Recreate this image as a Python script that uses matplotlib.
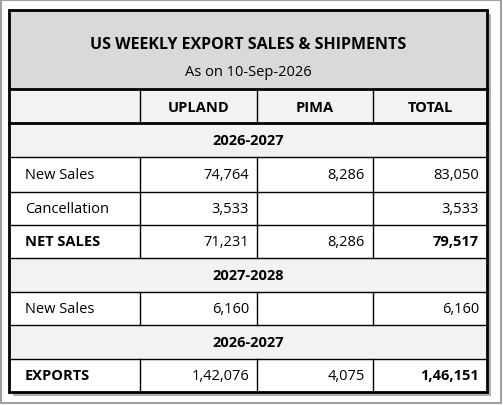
import matplotlib
matplotlib.use("Agg")
import matplotlib.pyplot as plt
from matplotlib.patches import Rectangle

title = "US WEEKLY EXPORT SALES & SHIPMENTS"
subtitle = "As on 10-Sep-2026"
columns = ["UPLAND", "PIMA", "TOTAL"]
rows = [
    ("section", "2026-2027"),
    ("row", "New Sales", "74,764", "8,286", "83,050", False),
    ("row", "Cancellation", "3,533", "", "3,533", False),
    ("row", "NET SALES", "71,231", "8,286", "79,517", True),
    ("section", "2027-2028"),
    ("row", "New Sales", "6,160", "", "6,160", False),
    ("section", "2026-2027"),
    ("row", "EXPORTS", "1,42,076", "4,075", "1,46,151", True),
]
row_edges = [124, 158, 193, 226, 259, 293, 326, 360, 393]

plt.rcParams['font.family'] = ['Open Sans', 'DejaVu Sans']
fig = plt.figure(figsize=(5.03, 4.06), dpi=100)
ax = fig.add_axes([0, 0, 1, 1])
ax.set_xlim(0, 503); ax.set_ylim(406, 0); ax.axis('off')

L, R, T, B = 9, 487, 11, 393
xs = [L, 140, 257, 373, R]
ax.add_patch(Rectangle((1, 1), 500, 403, fill=False, ec='#a0a0a0', lw=1.5))
ax.add_patch(Rectangle((L + 4, T + 4), R - L, B - T, fc='#b0b0b0', ec='none'))
ax.add_patch(Rectangle((L, T), R - L, B - T, fc='white', ec='none'))
ax.add_patch(Rectangle((L, T), R - L, 90 - T, fc='#d9d9d9', ec='none'))
ax.add_patch(Rectangle((L, 90), R - L, 34, fc='#f2f2f2', ec='none'))
ax.text((L + R) / 2, 45, title, ha='center', va='center', fontsize=11.5, fontweight='bold')
ax.text((L + R) / 2, 73, subtitle, ha='center', va='center', fontsize=10.5)
for i, c in enumerate(columns):
    ax.text((xs[i + 1] + xs[i + 2]) / 2, 108, c, ha='center', va='center', fontsize=10.5, fontweight='bold')
ax.plot([L, R], [90, 90], color='black', lw=2)
ax.plot([L, R], [124, 124], color='black', lw=2)
for x in xs[1:4]:
    ax.plot([x, x], [90, 124], color='black', lw=1)

for k, r in enumerate(rows):
    y0, y1 = row_edges[k], row_edges[k + 1]
    ym = (y0 + y1) / 2
    if r[0] == "section":
        ax.add_patch(Rectangle((L, y0), R - L, y1 - y0, fc='#f2f2f2', ec='none'))
        ax.text((L + R) / 2, ym, r[1], ha='center', va='center', fontsize=10.5, fontweight='bold')
    else:
        _, lab, u, p, t, bold = r
        fw = 'bold' if bold else 'normal'
        ax.text(L + 16, ym, lab, ha='left', va='center', fontsize=10.5, fontweight=fw)
        ax.text(xs[2] - 8, ym, u, ha='right', va='center', fontsize=10.5)
        ax.text(xs[3] - 8, ym, p, ha='right', va='center', fontsize=10.5)
        ax.text(xs[4] - 8, ym, t, ha='right', va='center', fontsize=10.5, fontweight=fw)
        for x in xs[1:4]:
            ax.plot([x, x], [y0, y1], color='black', lw=1)
    if k > 0:
        ax.plot([L, R], [y0, y0], color='black', lw=1)
ax.add_patch(Rectangle((L, T), R - L, B - T, fill=False, ec='black', lw=2))
fig.savefig("out.png", dpi=100)
